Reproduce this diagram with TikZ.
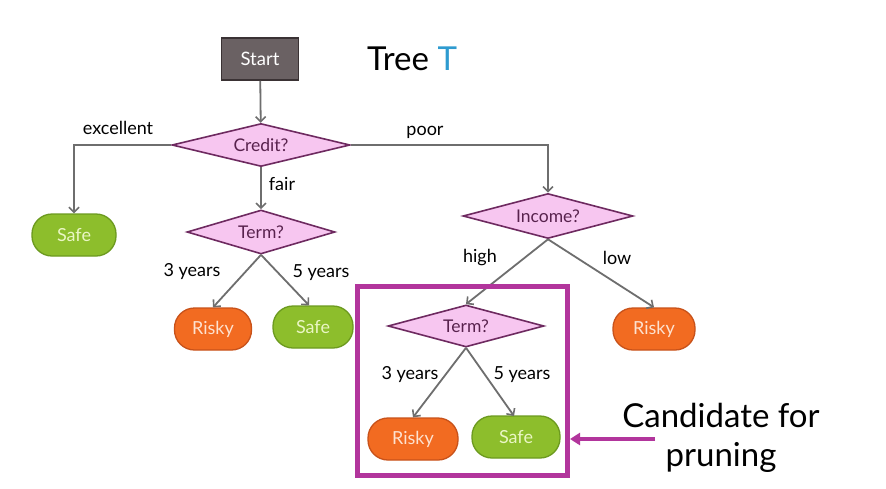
\documentclass[tikz,border=0pt]{standalone}
\usepackage{fontspec}
\setmainfont{Lato}
\usetikzlibrary{shapes.geometric,arrows.meta}
\definecolor{startfill}{HTML}{6A6163}
\definecolor{startdraw}{HTML}{3A3234}
\definecolor{dfill}{HTML}{F7C6F0}
\definecolor{ddraw}{HTML}{6E2A60}
\definecolor{gfill}{HTML}{8DBE2C}
\definecolor{gdraw}{HTML}{6C9A1F}
\definecolor{gtext}{HTML}{EAF6C4}
\definecolor{ofill}{HTML}{F26B21}
\definecolor{odraw}{HTML}{C8521A}
\definecolor{otext}{HTML}{FDE2D0}
\definecolor{conn}{HTML}{6E6E6E}
\definecolor{mag}{HTML}{B2359C}
\definecolor{tblue}{HTML}{2E9BD0}
\tikzset{
  startbox/.style={draw=startdraw,fill=startfill,line width=1.5pt,minimum width=77pt,minimum height=42pt,text=white,font=\fontsize{18.5}{20}\selectfont},
  question/.style={diamond,aspect=3.6,draw=ddraw,fill=dfill,line width=1.6pt,inner sep=0pt,text=ddraw!80!black,font=\fontsize{17.5}{19}\selectfont},
  leafsafe/.style={draw=gdraw,fill=gfill,line width=1.3pt,rounded corners=20pt,minimum height=42pt,text=gtext,font=\fontsize{18}{20}\selectfont},
  leafrisky/.style={draw=odraw,fill=ofill,line width=1.3pt,rounded corners=20pt,minimum height=42pt,text=otext,font=\fontsize{18}{20}\selectfont},
  conn/.style={draw=conn,line width=1.8pt,-{Straight Barb[length=5pt,width=10pt,line width=1.6pt]}},
  lbl/.style={font=\fontsize{18}{20}\selectfont,text=black,inner sep=1pt},
}
\begin{document}
\begin{tikzpicture}[x=1pt,y=-1pt]
\useasboundingbox (0,0) rectangle (886,488);
\fill[white] (0,0) rectangle (886,488);
% nodes
\node[startbox] (start) at (260,59) {Start};
\node[font=\fontsize{33}{36}\selectfont,anchor=center] (title) at (412,59) {Tree \textcolor{tblue}{T}};
\node[question,minimum width=178pt,minimum height=43pt] (credit) at (261,145) {Credit?};
\node[leafsafe,minimum width=84pt] (safeA) at (74,235) {Safe};
\node[question,minimum width=148pt,minimum height=44pt] (termA) at (261,232) {Term?};
\node[leafrisky,minimum width=77pt] (riskyA) at (213,329) {Risky};
\node[leafsafe,minimum width=80pt] (safeB) at (313,327) {Safe};
\node[question,minimum width=170pt,minimum height=45pt] (income) at (548,216) {Income?};
\node[question,minimum width=156pt,minimum height=42pt] (termB) at (466,326) {Term?};
\node[leafrisky,minimum width=82pt] (riskyC) at (654,329) {Risky};
\node[leafrisky,minimum width=90pt] (riskyB) at (413,439) {Risky};
\node[leafsafe,minimum width=88pt] (safeC) at (516,437) {Safe};
% connectors
\draw[conn] (start) -- (credit);
\draw[conn] (credit.west) -| (safeA.north);
\draw[conn] (credit.east) -| (income.north);
\draw[conn] (credit.south) -- (termA.north);
\draw[conn] (termA.south) -- (riskyA.north);
\draw[conn] (termA.south) -- (safeB.north -| 309,0);
\draw[conn] (income.south) -- (termB.north);
\draw[conn] (income.south) -- (riskyC.north);
\draw[conn] (termB.south) -- (riskyB.north);
\draw[conn] (termB.south) -- (514,416);
% labels
\node[lbl] at (118,128) {excellent};
\node[lbl] at (425,132) {poor};
\node[lbl] at (282,184) {fair};
\node[lbl] at (192,272) {3 years};
\node[lbl] at (321,273) {5 years};
\node[lbl] at (480,258) {high};
\node[lbl] at (617,258) {low};
\node[lbl] at (410,375) {3 years};
\node[lbl] at (522,375) {5 years};
% pruning box
\node[draw=mag,line width=5pt,minimum width=210pt,minimum height=189pt,inner sep=0pt] (prune) at (462.5,381) {};
\node[font=\fontsize{33}{39}\selectfont,align=center] (cand) at (721,438) {Candidate for\\pruning};
\coordinate (arrstart) at (655,439);
\draw[mag,line width=4pt,-{Triangle[length=10pt,width=12pt]}] (arrstart) -- (prune.east |- arrstart);
\end{tikzpicture}
\end{document}
